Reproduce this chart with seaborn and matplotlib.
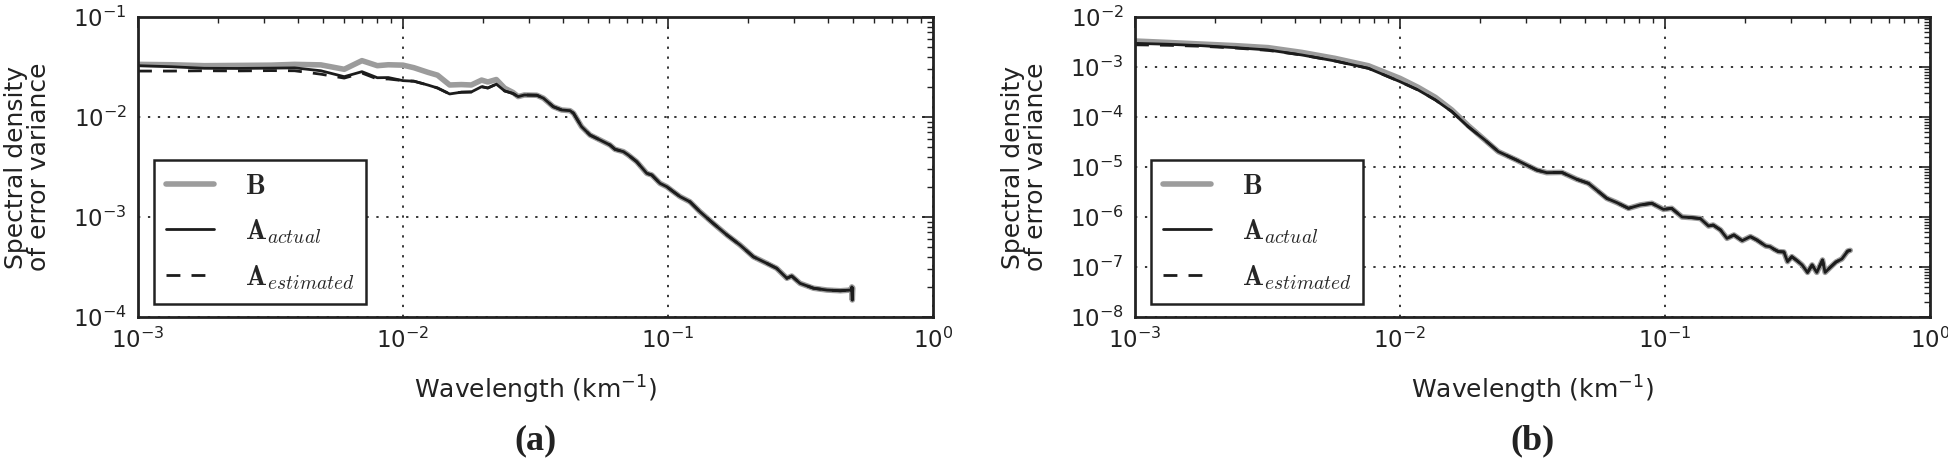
import numpy as np
import pandas as pd
import matplotlib
matplotlib.use("Agg")
import matplotlib.pyplot as plt
import seaborn as sns
from matplotlib.ticker import LogLocator, NullFormatter, LogFormatterSciNotation
from matplotlib.font_manager import FontProperties

# ---------------- data: panel (a) ----------------
k_a = [1.0e-3, 1.34e-3, 1.78e-3, 2.38e-3, 3.18e-3, 3.9e-3, 4.9e-3, 6.0e-3, 7.0e-3,
       8.0e-3, 8.8e-3, 1.0e-2, 1.1e-2, 1.24e-2, 1.35e-2, 1.5e-2, 1.66e-2, 1.81e-2,
       1.98e-2, 2.09e-2, 2.25e-2, 2.42e-2, 2.6e-2, 2.72e-2, 2.87e-2, 3.2e-2, 3.39e-2,
       3.69e-2, 3.97e-2, 4.27e-2, 4.40e-2, 4.72e-2, 5.08e-2, 5.54e-2, 6.04e-2, 6.31e-2,
       6.79e-2, 7.08e-2, 7.62e-2, 8.32e-2, 8.69e-2, 9.33e-2, 9.89e-2, 0.1048, 0.111,
       0.121, 0.132, 0.148, 0.167, 0.187, 0.210, 0.236, 0.257, 0.281, 0.293, 0.315,
       0.354, 0.398, 0.447, 0.490, 0.494, 0.496, 0.498]
a_actual = [0.0326, 0.0318, 0.0307, 0.0306, 0.0308, 0.0310, 0.0290, 0.0253, 0.0284,
            0.0247, 0.0248, 0.0231, 0.0228, 0.0209, 0.0195, 0.0170, 0.0177, 0.0178,
            0.0201, 0.0195, 0.0213, 0.0182, 0.0172, 0.0160, 0.0166, 0.0165, 0.0154,
            0.01268, 0.01175, 0.01157, 0.0109, 0.0080, 0.0066, 0.00589, 0.00525, 0.00475,
            0.0045, 0.00417, 0.00357, 0.00273, 0.00263, 0.00217, 0.00201, 0.00179, 0.0016,
            0.00142, 0.00113, 0.000865, 0.00066, 0.000525, 0.0004, 0.000344, 0.000307,
            0.000244, 0.000257, 0.000217, 0.000194, 0.000186, 0.000183, 0.000186,
            0.000200, 0.000148, 0.000195]
a_B = [0.0336, 0.0333, 0.0326, 0.0328, 0.0330, 0.0336, 0.0332, 0.0300, 0.0366,
       0.0326, 0.0333, 0.0330, 0.0311, 0.0280, 0.0262, 0.0209, 0.0211, 0.0209,
       0.0234, 0.0224, 0.0237, 0.0194, 0.0176, 0.0160, 0.0166, 0.0165, 0.0154,
       0.01268, 0.01175, 0.01157, 0.0109, 0.0080, 0.0066, 0.00589, 0.00525, 0.00475,
       0.0045, 0.00417, 0.00357, 0.00273, 0.00263, 0.00217, 0.00201, 0.00179, 0.0016,
       0.00142, 0.00113, 0.000865, 0.00066, 0.000525, 0.0004, 0.000344, 0.000307,
       0.000244, 0.000257, 0.000217, 0.000194, 0.000186, 0.000183, 0.000186,
       0.000200, 0.000148, 0.000195]
a_est = [0.0288, 0.0288, 0.0290, 0.0289, 0.0291, 0.0290, 0.0268, 0.0245, 0.0275,
         0.0240, 0.0240, 0.0231, 0.0228, 0.0209, 0.0195, 0.0170, 0.0177, 0.0178,
         0.0201, 0.0195, 0.0213, 0.0182, 0.0172, 0.0160, 0.0166, 0.0165, 0.0154,
         0.01268, 0.01175, 0.01157, 0.0109, 0.0080, 0.0066, 0.00589, 0.00525, 0.00475,
         0.0045, 0.00417, 0.00357, 0.00273, 0.00263, 0.00217, 0.00201, 0.00179, 0.0016,
         0.00142, 0.00113, 0.000865, 0.00066, 0.000525, 0.0004, 0.000344, 0.000307,
         0.000244, 0.000257, 0.000217, 0.000194, 0.000186, 0.000183, 0.000186,
         0.000200, 0.000148, 0.000195]

# ---------------- data: panel (b) ----------------
k_b = [1.0e-3, 1.33e-3, 1.78e-3, 2.38e-3, 3.18e-3, 4.26e-3, 5.68e-3, 7.6e-3, 1.0e-2,
       1.17e-2, 1.36e-2, 1.57e-2, 1.81e-2, 2.09e-2, 2.35e-2, 2.75e-2, 3.28e-2, 3.58e-2,
       4.08e-2, 4.65e-2, 5.14e-2, 6.03e-2, 6.58e-2, 7.28e-2, 8.06e-2, 8.92e-2, 9.87e-2,
       0.106, 0.116, 0.1264, 0.136, 0.146, 0.152, 0.162, 0.1714, 0.182, 0.1955, 0.21,
       0.222, 0.240, 0.249, 0.258, 0.268, 0.281, 0.290, 0.301, 0.316, 0.329, 0.345,
       0.359, 0.374, 0.393, 0.402, 0.420, 0.442, 0.465, 0.489, 0.50]
b_actual = [2.97e-3, 2.85e-3, 2.67e-3, 2.44e-3, 2.19e-3, 1.74e-3, 1.32e-3, 9.4e-4, 5.09e-4,
            3.47e-4, 2.19e-4, 1.28e-4, 6.4e-5, 3.47e-5, 2.03e-5, 1.38e-5, 8.7e-6, 7.7e-6,
            7.8e-6, 5.67e-6, 4.71e-6, 2.36e-6, 1.94e-6, 1.49e-6, 1.74e-6, 1.88e-6, 1.42e-6,
            1.49e-6, 1.0e-6, 9.7e-7, 9.3e-7, 6.6e-7, 6.9e-7, 5.5e-7, 3.74e-7, 4.37e-7,
            3.36e-7, 4.05e-7, 3.47e-7, 2.63e-7, 2.55e-7, 2.26e-7, 2.03e-7, 2.0e-7, 1.28e-7,
            1.61e-7, 1.32e-7, 1.10e-7, 7.8e-8, 1.10e-7, 7.8e-8, 1.38e-7, 7.8e-8, 9.8e-8,
            1.26e-7, 1.45e-7, 2.08e-7, 2.15e-7]
b_B = [3.31e-3, 3.1e-3, 2.88e-3, 2.68e-3, 2.44e-3, 1.96e-3, 1.49e-3, 1.06e-3, 5.93e-4,
       3.92e-4, 2.47e-4, 1.38e-4, 6.7e-5, 3.47e-5, 2.03e-5, 1.38e-5, 8.7e-6, 7.7e-6,
       7.8e-6, 5.67e-6, 4.71e-6, 2.36e-6, 1.94e-6, 1.49e-6, 1.74e-6, 1.88e-6, 1.42e-6,
       1.49e-6, 1.0e-6, 9.7e-7, 9.3e-7, 6.6e-7, 6.9e-7, 5.5e-7, 3.74e-7, 4.37e-7,
       3.36e-7, 4.05e-7, 3.47e-7, 2.63e-7, 2.55e-7, 2.26e-7, 2.03e-7, 2.0e-7, 1.28e-7,
       1.61e-7, 1.32e-7, 1.10e-7, 7.8e-8, 1.10e-7, 7.8e-8, 1.38e-7, 7.8e-8, 9.8e-8,
       1.26e-7, 1.45e-7, 2.08e-7, 2.15e-7]
b_est = [2.78e-3, 2.72e-3, 2.6e-3, 2.4e-3, 2.15e-3, 1.74e-3, 1.32e-3, 9.4e-4, 5.09e-4,
         3.47e-4, 2.19e-4, 1.28e-4, 6.4e-5, 3.47e-5, 2.03e-5, 1.38e-5, 8.7e-6, 7.7e-6,
         7.8e-6, 5.67e-6, 4.71e-6, 2.36e-6, 1.94e-6, 1.49e-6, 1.74e-6, 1.88e-6, 1.42e-6,
         1.49e-6, 1.0e-6, 9.7e-7, 9.3e-7, 6.6e-7, 6.9e-7, 5.5e-7, 3.74e-7, 4.37e-7,
         3.36e-7, 4.05e-7, 3.47e-7, 2.63e-7, 2.55e-7, 2.26e-7, 2.03e-7, 2.0e-7, 1.28e-7,
         1.61e-7, 1.32e-7, 1.10e-7, 7.8e-8, 1.10e-7, 7.8e-8, 1.38e-7, 7.8e-8, 9.8e-8,
         1.26e-7, 1.45e-7, 2.08e-7, 2.15e-7]

labels = [r"$\mathbf{B}$", r"$\mathbf{A}_{actual}$", r"$\mathbf{A}_{estimated}$"]
x_label = "Wavelength (km$^{-1}$)"
y_label = "Spectral density\nof error variance"
panel_tags = ["(a)", "(b)"]

# ---------------- style ----------------
sns.set_style("white")
plt.rcParams["font.family"] = ["DejaVu Sans"]
plt.rcParams["axes.unicode_minus"] = False

TXT = "#222222"
GREY = "#9c9c9c"
BLACK = "#1c1c1c"

W, H = 1949, 461
fig = plt.figure(figsize=(W / 100, H / 100), dpi=100)
ax_a = fig.add_axes([138 / W, 144 / H, 795 / W, 300 / H])
ax_b = fig.add_axes([1135 / W, 144 / H, 795 / W, 300 / H])


def draw(ax, k, B, act, est, ylim):
    ax.set_xscale("log")
    ax.set_yscale("log")
    df = pd.DataFrame({"k": k, "B": B, "act": act, "est": est})
    sns.lineplot(data=df, x="k", y="B", ax=ax, color=GREY, linewidth=4.0,
                 estimator=None, sort=False, label=labels[0])
    sns.lineplot(data=df, x="k", y="act", ax=ax, color=BLACK, linewidth=2.0,
                 estimator=None, sort=False, label=labels[1])
    sns.lineplot(data=df, x="k", y="est", ax=ax, color=BLACK, linewidth=2.0,
                 linestyle=(0, (5, 4)), estimator=None, sort=False, label=labels[2])
    ax.set_xlim(1e-3, 1.0)
    ax.set_ylim(*ylim)
    for axis in (ax.xaxis, ax.yaxis):
        axis.set_major_locator(LogLocator(base=10, numticks=30))
        axis.set_minor_locator(LogLocator(base=10, subs=np.arange(2, 10), numticks=200))
        axis.set_major_formatter(LogFormatterSciNotation(base=10))
        axis.set_minor_formatter(NullFormatter())
    ax.tick_params(which="both", direction="in", top=True, right=True,
                   colors=TXT, labelsize=16.5)
    ax.tick_params(which="major", length=8, width=1.2, pad=8)
    ax.tick_params(which="minor", length=4, width=1.0)
    ax.grid(True, which="major", color="black", linestyle=(0, (1.5, 5)), linewidth=1.1)
    ax.grid(False, which="minor")
    for s in ax.spines.values():
        s.set_visible(True)
        s.set_linewidth(2.0)
        s.set_color(TXT)
    ax.set_xlabel(x_label, fontsize=18, labelpad=15, color=TXT)
    ax.set_ylabel(y_label, fontsize=18, labelpad=16, color=TXT, linespacing=0.95)
    prop = FontProperties(size=20, math_fontfamily="cm")
    leg = ax.legend(loc="lower left", bbox_to_anchor=(0.02, 0.045), prop=prop,
                    frameon=True, fancybox=False, framealpha=1, edgecolor=TXT,
                    handlelength=1.75, handletextpad=1.1, borderpad=0.42,
                    labelspacing=0.62, borderaxespad=0)
    leg.get_frame().set_linewidth(1.8)


draw(ax_a, k_a, a_B, a_actual, a_est, (1e-4, 1e-1))
draw(ax_b, k_b, b_B, b_actual, b_est, (1e-8, 1e-2))

for ax, tag in zip((ax_a, ax_b), panel_tags):
    pos = ax.get_position()
    fig.text(pos.x0 + pos.width / 2, 20 / H, tag, ha="center", va="center",
             fontsize=26, fontweight="bold", family="Liberation Serif", color=TXT)

fig.savefig("out.png", dpi=100)
